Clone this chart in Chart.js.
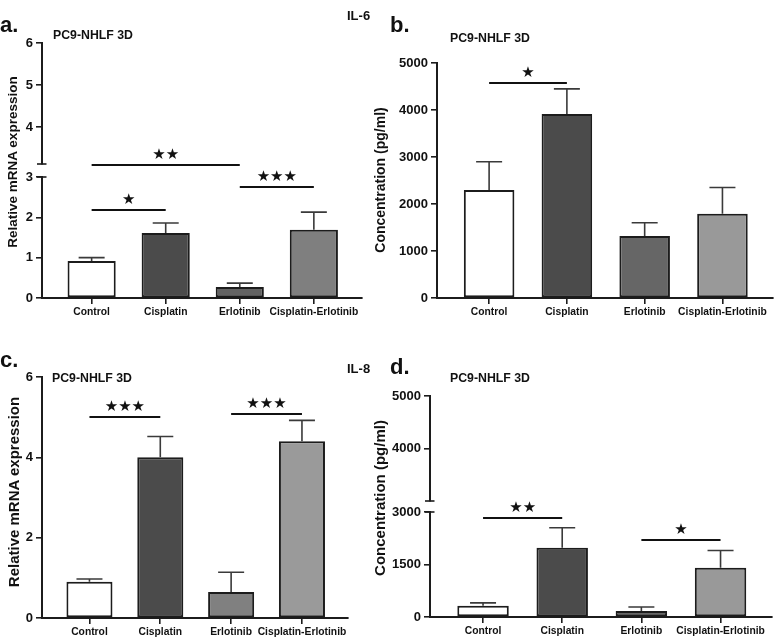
<!DOCTYPE html>
<html>
<head>
<meta charset="utf-8">
<script src="https://cdn.jsdelivr.net/npm/chart.js@4.4.1/dist/chart.umd.min.js"></script>
<style>
  body { margin: 0; background: #fff; }
  #fig { position: relative; width: 778px; height: 638px; overflow: hidden; background: #fff;
         font-family: "Liberation Sans", Arial, sans-serif; font-weight: bold; color: #111; }
  #fig canvas { position: absolute; }
  .t { position: absolute; white-space: nowrap; line-height: 1; }
  .yt { position: absolute; white-space: nowrap; line-height: 1; transform: translate(-50%, -50%) rotate(-90deg); }
</style>
</head>
<body>
<div id="fig">
  <canvas id="pa" width="390" height="330" style="left:0;top:0"></canvas>
  <canvas id="pb" width="408" height="330" style="left:370px;top:0"></canvas>
  <canvas id="pc" width="390" height="318" style="left:0;top:320px"></canvas>
  <canvas id="pd" width="408" height="318" style="left:370px;top:320px"></canvas>

  <div class="t" style="left:0;top:14px;font-size:22px">a.</div>
  <div class="t" style="left:390px;top:14px;font-size:22px">b.</div>
  <div class="t" style="left:0;top:349px;font-size:22px">c.</div>
  <div class="t" style="left:390px;top:356px;font-size:22px">d.</div>

  <div class="t" style="left:347px;top:9px;font-size:13px">IL-6</div>
  <div class="t" style="left:347px;top:362px;font-size:13px">IL-8</div>

  <div class="t" style="left:53px;top:28.5px;font-size:12.3px">PC9-NHLF 3D</div>
  <div class="t" style="left:450px;top:31.5px;font-size:12.3px">PC9-NHLF 3D</div>
  <div class="t" style="left:52px;top:371.5px;font-size:12.3px">PC9-NHLF 3D</div>
  <div class="t" style="left:450px;top:371.5px;font-size:12.3px">PC9-NHLF 3D</div>

  <div class="yt" style="left:13px;top:162px;font-size:13.5px">Relative mRNA expression</div>
  <div class="yt" style="left:380px;top:180px;font-size:14px">Concentration (pg/ml)</div>
  <div class="yt" style="left:13px;top:492px;font-size:15px">Relative mRNA expression</div>
  <div class="yt" style="left:379px;top:498px;font-size:15px">Concentration (pg/ml)</div>
</div>

<script>
const categories = ['Control', 'Cisplatin', 'Erlotinib', 'Cisplatin-Erlotinib'];

// IL-6
const il6MrnaMean = [0.92, 1.61, 0.27, 1.69];
const il6MrnaSem = [0.08, 0.25, 0.10, 0.44];
const il6ProteinMean = [2300, 3915, 1320, 1790];
const il6ProteinSem = [600, 535, 280, 560];

// IL-8
const il8MrnaMean = [0.90, 4.00, 0.65, 4.40];
const il8MrnaSem = [0.07, 0.52, 0.49, 0.52];
const il8ProteinMean = [320, 1980, 175, 1410];
const il8ProteinSem = [85, 570, 110, 490];

// significance brackets: [from, to, height, stars]
const il6MrnaSig = [[0, 1, 2.18, 1], [0, 2, 3.3, 2], [2, 3, 2.75, 3]];
const il6ProteinSig = [[0, 1, 4580, 1]];
const il8MrnaSig = [[0, 1, 5.0, 3], [2, 3, 5.07, 3]];
const il8ProteinSig = [[0, 1, 2830, 2], [2, 3, 2200, 1]];

// axis ticks
const il6MrnaTicksLow = [0, 1, 2, 3];
const il6MrnaTicksHigh = [4, 5, 6];
const il6ProteinTicks = [0, 1000, 2000, 3000, 4000, 5000];
const il8MrnaTicks = [0, 2, 4, 6];
const il8ProteinTicksLow = [0, 1500, 3000];
const il8ProteinTicksHigh = [4000, 5000];

const fillsA = ['#ffffff', '#4b4b4b', '#636363', '#7f7f7f'];
const fillsB = ['#ffffff', '#4b4b4b', '#666666', '#999999'];
const fillsC = ['#ffffff', '#4b4b4b', '#808080', '#9a9a9a'];
const fillsD = ['#ffffff', '#4b4b4b', '#666666', '#999999'];

const INK = '#1c1c1c';
const FONT = '"Liberation Sans", Arial, sans-serif';

const errorBars = {
  id: 'errorBars',
  afterDatasetsDraw(chart, args, opts) {
    const meta = chart.getDatasetMeta(0);
    const yScale = chart.scales[meta.yAxisID];
    const ctx = chart.ctx;
    ctx.save();
    ctx.strokeStyle = '#3a3a3a';
    ctx.lineWidth = 1.6;
    meta.data.forEach((bar, i) => {
      const top = yScale.getPixelForValue(opts.mean[i] + opts.sem[i]);
      ctx.beginPath();
      ctx.moveTo(bar.x, bar.y);
      ctx.lineTo(bar.x, top);
      ctx.moveTo(bar.x - 13, top);
      ctx.lineTo(bar.x + 13, top);
      ctx.stroke();
    });
    ctx.restore();
  }
};

const brackets = {
  id: 'brackets',
  afterDatasetsDraw(chart, args, opts) {
    const meta = chart.getDatasetMeta(0);
    const yScale = chart.scales[meta.yAxisID];
    const xScale = chart.scales.x;
    const ctx = chart.ctx;
    ctx.save();
    ctx.strokeStyle = '#111';
    ctx.fillStyle = '#111';
    ctx.lineWidth = 2;
    ctx.font = '15px "DejaVu Sans"';
    ctx.textAlign = 'center';
    ctx.textBaseline = 'middle';
    opts.items.forEach(([from, to, h, n]) => {
      const x1 = xScale.getPixelForValue(from);
      const x2 = xScale.getPixelForValue(to);
      const y = Math.round(yScale.getPixelForValue(h));
      ctx.beginPath();
      ctx.moveTo(x1, y);
      ctx.lineTo(x2, y);
      ctx.stroke();
      ctx.fillText('\u2605'.repeat(n), (x1 + x2) / 2, y - 10);
    });
    ctx.restore();
  }
};

// small caps at both ends of an axis break
const breakCaps = {
  id: 'breakCaps',
  afterDraw(chart) {
    const lo = chart.scales.yLow, hi = chart.scales.yHigh;
    if (!lo || !hi) return;
    const ctx = chart.ctx;
    const x = lo.right;
    ctx.save();
    ctx.strokeStyle = INK;
    ctx.lineWidth = 1.6;
    [hi.bottom, lo.top].forEach(y => {
      ctx.beginPath();
      ctx.moveTo(x - 5, y);
      ctx.lineTo(x + 4.5, y);
      ctx.stroke();
    });
    ctx.restore();
  }
};

function yAxis(min, max, ticks, axisX, extra) {
  return Object.assign({
    type: 'linear',
    position: 'left',
    min, max,
    bounds: 'data',
    afterBuildTicks: s => { s.ticks = ticks.map(v => ({ value: v })); },
    afterFit: s => { s.width = axisX; },
    ticks: {
      callback: v => String(v),
      color: '#111', padding: 3, font: { family: FONT, size: 13, weight: 'bold' }
    },
    grid: { drawOnChartArea: false, tickLength: 6, color: INK, lineWidth: 1.6 },
    border: { color: INK, width: 2 }
  }, extra || {});
}

function makePanel(p) {
  const scales = {
    x: {
      type: 'linear',
      min: -0.67, max: 3.65,
      bounds: 'data',
      offset: false,
      afterBuildTicks: s => { s.ticks = categories.map((c, i) => ({ value: i })); },
      afterFit: s => { s.height = 20; },
      ticks: {
        callback: v => categories[v],
        autoSkip: false, maxRotation: 0, padding: 2, color: '#111',
        font: { family: FONT, size: 10.3, weight: 'bold' }
      },
      grid: { offset: false, drawOnChartArea: false, tickLength: 6, color: INK, lineWidth: 1.6 },
      border: { color: INK, width: 2 }
    }
  };
  let yId = 'y';
  if (p.high) {
    yId = 'yLow';
    scales.yLow = yAxis(p.low.min, p.low.max, p.low.ticks, p.axisX, { stack: 'y', stackWeight: p.low.px });
    scales.yGap = {
      type: 'linear', position: 'left', stack: 'y', stackWeight: p.gapPx,
      afterFit: s => { s.width = p.axisX; },
      ticks: { display: false }, grid: { display: false }, border: { display: false }
    };
    scales.yHigh = yAxis(p.high.min, p.high.max, p.high.ticks, p.axisX, { stack: 'y', stackWeight: p.high.px });
  } else {
    scales.y = yAxis(p.low.min, p.low.max, p.low.ticks, p.axisX);
  }

  new Chart(document.getElementById(p.id), {
    type: 'bar',
    data: {
      labels: categories.map((c, i) => i),
      datasets: [{
        data: p.mean,
        yAxisID: yId,
        backgroundColor: p.fills,
        borderColor: INK,
        borderWidth: 2,
        borderSkipped: false,
        barPercentage: 0.65,
        categoryPercentage: 1
      }]
    },
    options: {
      responsive: false,
      animation: false,
      devicePixelRatio: 1,
      layout: { padding: { left: 0, top: p.top, right: p.w - p.right, bottom: p.h - p.bottom - 20 } },
      plugins: {
        legend: { display: false },
        tooltip: { enabled: false },
        errorBars: { mean: p.mean, sem: p.sem },
        brackets: { items: p.sig }
      },
      scales
    },
    plugins: [errorBars, brackets, breakCaps]
  });
}

makePanel({
  id: 'pa', w: 390, h: 330, axisX: 42, top: 43, bottom: 298, right: 362,
  mean: il6MrnaMean, sem: il6MrnaSem, fills: fillsA, sig: il6MrnaSig,
  low: { min: 0, max: 3, ticks: il6MrnaTicksLow, px: 121 },
  high: { min: 3.12, max: 6, ticks: il6MrnaTicksHigh, px: 121 }, gapPx: 13
});

makePanel({
  id: 'pb', w: 408, h: 330, axisX: 67, top: 63, bottom: 298, right: 403,
  mean: il6ProteinMean, sem: il6ProteinSem, fills: fillsB, sig: il6ProteinSig,
  low: { min: 0, max: 5000, ticks: il6ProteinTicks }
});

makePanel({
  id: 'pc', w: 390, h: 318, axisX: 42, top: 57, bottom: 298, right: 348,
  mean: il8MrnaMean, sem: il8MrnaSem, fills: fillsC, sig: il8MrnaSig,
  low: { min: 0, max: 6, ticks: il8MrnaTicks }
});

makePanel({
  id: 'pd', w: 408, h: 318, axisX: 60, top: 76, bottom: 297, right: 402,
  mean: il8ProteinMean, sem: il8ProteinSem, fills: fillsD, sig: il8ProteinSig,
  low: { min: 0, max: 3000, ticks: il8ProteinTicksLow, px: 105 },
  high: { min: 3000, max: 5000, ticks: il8ProteinTicksHigh, px: 105 }, gapPx: 11
});
</script>
</body>
</html>
